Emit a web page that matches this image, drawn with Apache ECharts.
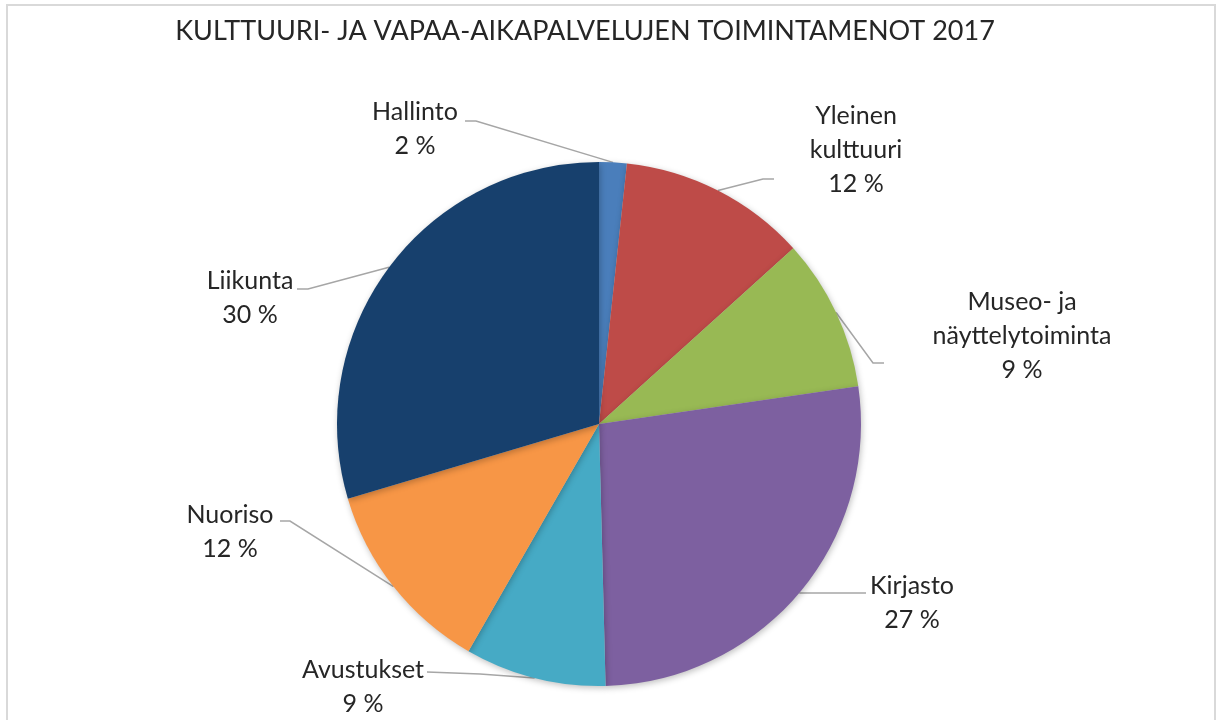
<!DOCTYPE html>
<html>
<head>
<meta charset="utf-8">
<script src="https://cdn.jsdelivr.net/npm/echarts@6/dist/echarts.min.js"></script>
<style>
html,body{margin:0;padding:0;background:#fff;}
#chart{width:1217px;height:720px;}
</style>
</head>
<body>
<div id="chart"></div>
<script>
// ---- data ----
const titleText = 'KULTTUURI- JA VAPAA-AIKAPALVELUJEN TOIMINTAMENOT 2017';
const categories = ['Hallinto', 'Yleinen\nkulttuuri', 'Museo- ja\nnäyttelytoiminta', 'Kirjasto', 'Avustukset', 'Nuoriso', 'Liikunta'];
const values = [1.7, 11.6, 9.4, 26.9, 8.7, 12.1, 29.6];
const colors = ['#4A7EBB', '#BE4B48', '#98B954', '#7D60A0', '#46AAC5', '#F79646', '#17406D'];

// ---- label layout (label centre, elbow point, line end) ----
const labelPos = [
  {x: 415, y: 129, elbow: [476, 121], end: [465, 121]},
  {x: 856, y: 150, elbow: [763, 179], end: [774, 179]},
  {x: 1022, y: 336, elbow: [873, 363], end: [884, 363]},
  {x: 912, y: 603, elbow: [820, 593], end: [866, 593]},
  {x: 363, y: 687, elbow: [480, 674], end: [427, 672]},
  {x: 230, y: 532, elbow: [290, 521], end: [280, 521]},
  {x: 250, y: 298, elbow: [308, 289], end: [297, 289]}
];

const chart = echarts.init(document.getElementById('chart'));
const total = values.reduce((a, b) => a + b, 0);

chart.setOption({
  animation: false,
  backgroundColor: '#fff',
  graphic: [{
    type: 'rect',
    shape: {x: 7, y: 5, width: 1208, height: 800},
    style: {fill: 'none', stroke: '#D9D9D9', lineWidth: 2},
    silent: true
  }],
  title: {
    text: titleText,
    left: 580,
    top: 13,
    textAlign: 'center',
    textStyle: {fontFamily: 'Lato', fontSize: 27, fontWeight: 'normal', color: '#262626'}
  },
  series: [{
    type: 'pie',
    center: [599, 424],
    radius: [0, 262],
    startAngle: 90,
    clockwise: true,
    data: categories.map((c, i) => ({name: c, value: values[i], itemStyle: {color: colors[i]}})),
    itemStyle: {
      borderWidth: 0,
      shadowBlur: 6,
      shadowColor: 'rgba(0,0,0,0.25)',
      shadowOffsetX: 1,
      shadowOffsetY: 2
    },
    label: {
      show: true,
      position: 'outside',
      formatter: p => p.name + '\n' + Math.round(p.value / total * 100) + ' %',
      fontFamily: 'Lato',
      fontSize: 25,
      lineHeight: 34,
      color: '#262626',
      align: 'center'
    },
    labelLine: {
      show: true,
      length: 20,
      length2: 10,
      lineStyle: {color: '#A6A6A6', width: 1.5}
    },
    labelLayout: function (params) {
      const lp = labelPos[params.dataIndex];
      const pts = params.labelLinePoints;
      const p0 = pts ? pts[0] : lp.elbow;
      return {
        x: lp.x,
        y: lp.y,
        align: 'center',
        verticalAlign: 'middle',
        labelLinePoints: [p0, lp.elbow, lp.end]
      };
    }
  }]
});
</script>
</body>
</html>
